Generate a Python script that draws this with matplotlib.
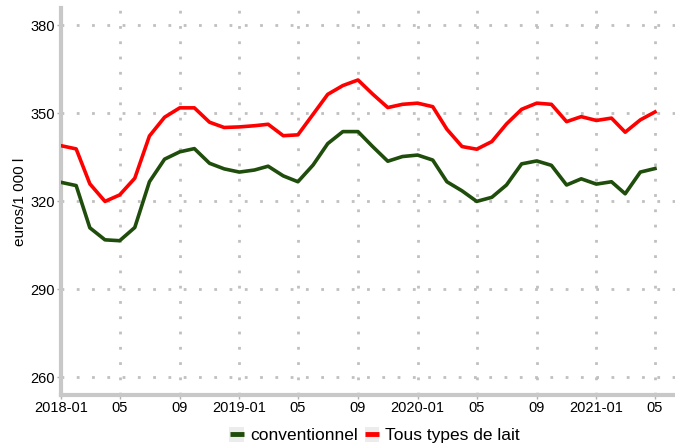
import matplotlib
matplotlib.use('Agg')
import matplotlib.pyplot as plt
import pandas as pd
from matplotlib.lines import Line2D
from matplotlib.patches import Patch
from matplotlib.legend_handler import HandlerTuple

plt.rcParams['font.family'] = ['Liberation Sans', 'DejaVu Sans']

months = pd.date_range('2018-01-01', periods=41, freq='MS')

conventionnel = [326.5, 325.4, 311.0, 306.9, 306.6, 311.1, 326.7, 334.4, 336.9, 338.0,
                 333.0, 331.1, 330.0, 330.7, 332.0, 328.7, 326.7, 332.4, 339.7, 343.8,
                 343.8, 338.7, 333.7, 335.3, 335.8, 334.1, 326.7, 323.6, 320.0, 321.4,
                 325.6, 332.8, 333.8, 332.3, 325.6, 327.7, 325.9, 326.7, 322.6, 330.0,
                 331.2]
tous_types = [339.0, 337.9, 326.0, 320.0, 322.2, 327.9, 342.3, 348.7, 351.9, 351.9,
              347.0, 345.2, 345.4, 345.8, 346.3, 342.4, 342.7, 349.7, 356.5, 359.5,
              361.4, 356.6, 352.0, 353.1, 353.5, 352.3, 344.6, 338.7, 337.8, 340.4,
              346.4, 351.4, 353.5, 353.1, 347.2, 348.9, 347.6, 348.4, 343.6, 347.8,
              350.5]

series_names = ['conventionnel', 'Tous types de lait']
colors = ['#1f4d0b', '#ff0000']
yticks = [260, 290, 320, 350, 380]

fig = plt.figure(figsize=(6.75, 4.45), dpi=100)
ax = fig.add_axes([0.0904, 0.1124, 0.9096, 0.870])

grid_kw = dict(color='#c0c0c0', lw=2, dashes=(1, 4.5), zorder=0)
xtick_dates = months[::4]
for d in xtick_dates:
    ax.axvline(d, **grid_kw)
for y in yticks:
    ax.axhline(y, **grid_kw)

ax.plot(months, conventionnel, color=colors[0], lw=2.6, zorder=3)
ax.plot(months, tous_types, color=colors[1], lw=2.6, zorder=3)

ax.set_ylim(254, 386)
ax.set_xlim(months[0], months[-1] + pd.Timedelta(days=41))
ax.set_yticks(yticks)
ax.set_xticks(xtick_dates)
ax.set_xticklabels([d.strftime('%Y-%m') if d.month == 1 else d.strftime('%m')
                    for d in xtick_dates])
ax.tick_params(labelsize=10.5, colors='#b0b0b0', labelcolor='black', length=3, width=1, pad=1.5)
ax.set_ylabel('euros/1 000 l', fontsize=11)
ax.yaxis.set_label_coords(-0.056, 0.5)

for s in ['top', 'right']:
    ax.spines[s].set_visible(False)
for s in ['left', 'bottom']:
    ax.spines[s].set_color('#c8c8c8')
    ax.spines[s].set_linewidth(3)

handles = [(Patch(facecolor='#ececec', edgecolor='none'),
            Line2D([], [], color=c, lw=0, marker='_', markersize=10, markeredgewidth=3.5))
           for c in colors]
fig.legend(handles, series_names, loc='center', bbox_to_anchor=(0.555, 0.022),
           ncol=2, frameon=False, fontsize=12.5, handlelength=0.85, handleheight=0.9,
           handletextpad=0.35, columnspacing=0.4,
           handler_map={tuple: HandlerTuple(ndivide=1)})

fig.savefig('out.png', dpi=100)
